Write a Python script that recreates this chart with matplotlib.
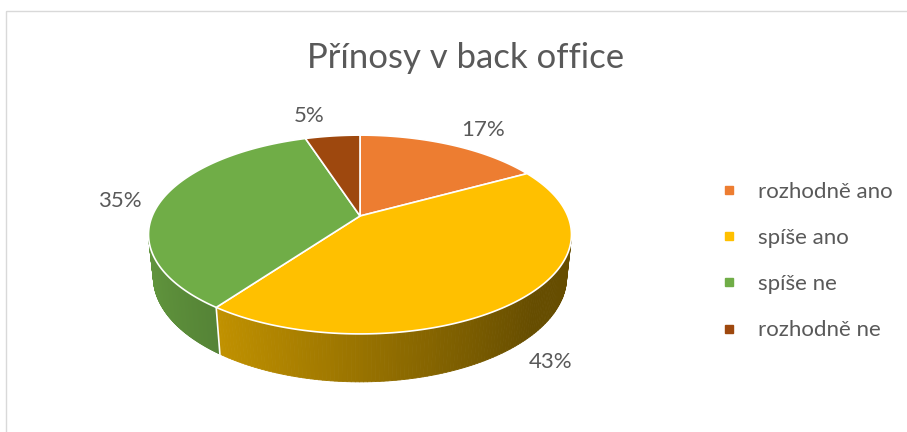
import numpy as np
import matplotlib
matplotlib.use("Agg")
import matplotlib.pyplot as plt
from matplotlib.collections import PolyCollection
from matplotlib.patches import Polygon, Rectangle
from matplotlib.lines import Line2D

title = "Přínosy v back office"
categories = ["rozhodně ano", "spíše ano", "spíše ne", "rozhodně ne"]
shares = [17, 43, 35, 5]
colors = ["#ED7D31", "#FFC000", "#70AD47", "#9E480E"]

# nudges (px) for the percentage labels, best-fit placement
label_nudge = [(17, -3), (-2, -5), (-2, 2), (-19, -7)]

plt.rcParams["font.family"] = ["Lato", "DejaVu Sans"]
TEXT = "#595959"

# perspective camera looking down on a unit disk
D = 4.76
tilt = np.radians(27.5)
cos_t, sin_t = np.cos(tilt), np.sin(tilt)
depth = 0.232
CX, CY, S = 360, 216, 989


def project(X, Y, Z):
    d = D + Y * cos_t - Z * sin_t
    return CX + S * X / d, CY - S * (Y * sin_t + Z * cos_t) / d


def shade(hex_color, theta):
    f = np.clip(0.6 - 0.27 * np.cos(theta), 0.4, 0.9)
    rgb = np.array(matplotlib.colors.to_rgb(hex_color))
    return tuple(rgb * f)


fig = plt.figure(figsize=(9.07, 4.32), dpi=100)
ax = fig.add_axes([0, 0, 1, 1])
ax.set_xlim(0, 907)
ax.set_ylim(432, 0)
ax.axis("off")

ax.add_patch(Rectangle((6, 11), 1200, 1200, fill=False,
                       edgecolor="#D9D9D9", lw=1.0))

# slice boundaries, clockwise from 12 o'clock
total = sum(shares)
bounds = np.radians(90 - 360 * np.concatenate([[0], np.cumsum(shares)]) / total)

# side wall is visible where sin(theta) < -1/(D cos tilt)
lim = np.arcsin(-1 / (D * cos_t))
vis_lo, vis_hi = -np.pi - lim, lim

for i, col in enumerate(colors):
    a0, a1 = bounds[i + 1], bounds[i]
    for k in (-2 * np.pi, 0):
        lo, hi = max(a0 + k, vis_lo), min(a1 + k, vis_hi)
        if hi <= lo:
            continue
        th = np.linspace(lo, hi, 120)
        quads, fcs = [], []
        for t0, t1 in zip(th[:-1], th[1:]):
            pts = [project(np.cos(t), np.sin(t), z)
                   for t, z in ((t0, 0), (t1, 0), (t1, -depth), (t0, -depth))]
            quads.append(pts)
            fcs.append(shade(col, (t0 + t1) / 2))
        ax.add_collection(PolyCollection(quads, facecolors=fcs, edgecolors=fcs,
                                         linewidths=0.6, zorder=1))

# white seams on the side wall
for b in bounds:
    bb = (b + np.pi) % (2 * np.pi) - np.pi
    if vis_lo < bb < vis_hi:
        p0 = project(np.cos(bb), np.sin(bb), 0)
        p1 = project(np.cos(bb), np.sin(bb), -depth)
        ax.plot([p0[0], p1[0]], [p0[1], p1[1]], color="white", lw=1.2, zorder=2)

# top face
for i, col in enumerate(colors):
    th = np.linspace(bounds[i], bounds[i + 1], 200)
    pts = [project(0, 0, 0)] + [project(np.cos(t), np.sin(t), 0) for t in th]
    ax.add_patch(Polygon(pts, closed=True, facecolor=col, edgecolor="white",
                         lw=1.2, joinstyle="round", zorder=3))

# percentage labels
for i, v in enumerate(shares):
    mid = (bounds[i] + bounds[i + 1]) / 2
    z = -depth if np.sin(mid) < 0 else 0
    x, y = project(1.2 * np.cos(mid), 1.2 * np.sin(mid), z)
    dx, dy = label_nudge[i]
    ax.text(x + dx, y + dy, f"{v}%", ha="center", va="center",
            fontsize=16, color=TEXT, zorder=4)

ax.text(466, 58, title, ha="center", va="center", fontsize=25,
        color=TEXT, fontweight="normal")

handles = [Line2D([], [], ls="none", marker="s", markersize=6,
                  markerfacecolor=c, markeredgecolor=c) for c in colors]
ax.legend(handles, categories, loc="center left", frameon=False,
          bbox_to_anchor=(720 / 907, 1 - 261 / 432), bbox_transform=fig.transFigure,
          fontsize=16, labelcolor=TEXT, handlelength=0.8, handletextpad=0.9,
          labelspacing=1.18, borderpad=0, borderaxespad=0)

fig.savefig("out.png", dpi=100)
